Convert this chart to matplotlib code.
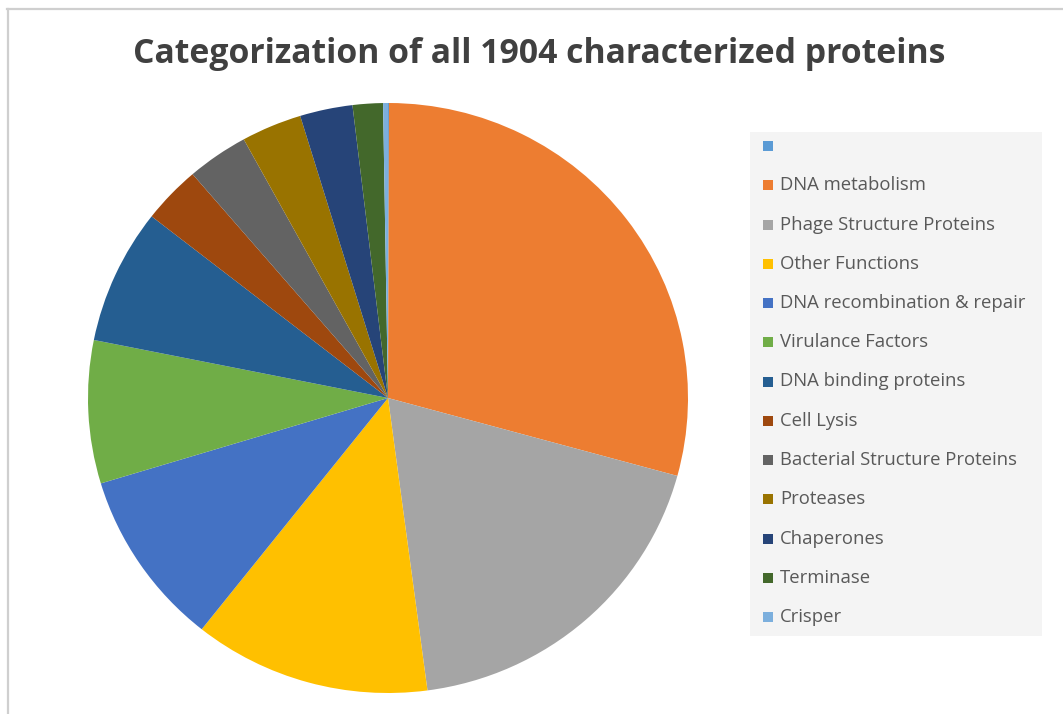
import matplotlib
matplotlib.use("Agg")
import matplotlib.pyplot as plt
from matplotlib.patches import Rectangle
from matplotlib.lines import Line2D

# Protein categories and their counts (1904 in total)
categories = [
    "", "DNA metabolism", "Phage Structure Proteins", "Other Functions",
    "DNA recombination & repair", "Virulance Factors", "DNA binding proteins",
    "Cell Lysis", "Bacterial Structure Proteins", "Proteases", "Chaperones",
    "Terminase", "Crisper",
]
counts = [1, 556, 355, 243, 184, 149, 141, 60, 63, 62, 54, 31, 5]
colors = [
    "#5B9BD5", "#ED7D31", "#A5A5A5", "#FFC000", "#4472C4", "#70AD47",
    "#255E91", "#9E480E", "#636363", "#997300", "#264478", "#43682B",
    "#7CAFDD",
]
title = "Categorization of all 1904 characterized proteins"

W, H = 1063, 714
fig = plt.figure(figsize=(W / 100, H / 100), dpi=100)
fig.patch.set_facecolor("white")


def fx(px):
    return px / W


def fy(py):
    return 1 - py / H


# Chart area border (top and left edges)
fig.add_artist(Line2D([fx(7), fx(W)], [fy(8.5), fy(8.5)], color="#cfcfcf", lw=1.6,
                      transform=fig.transFigure))
fig.add_artist(Line2D([fx(7.5), fx(7.5)], [fy(8.5), fy(H)], color="#cfcfcf", lw=1.6,
                      transform=fig.transFigure))

# Pie
cx, cy, rx, ry = 388, 398, 300, 295
ax = fig.add_axes([fx(cx - rx), fy(cy + ry), 2 * rx / W, 2 * ry / H])
ax.pie(counts, colors=colors, startangle=90, counterclock=False, radius=1.0,
       wedgeprops=dict(linewidth=0))
ax.set_aspect("auto")
ax.set_xlim(-1, 1)
ax.set_ylim(-1, 1)
ax.axis("off")

# Title
fig.text(fx(539), fy(54), title, ha="center", va="center", fontsize=24.3,
         fontweight="bold", color="#404040", family="Open Sans")

# Legend panel
fig.add_artist(Rectangle((fx(750), fy(636)), fx(1042) - fx(750), fy(132) - fy(636),
                         transform=fig.transFigure, facecolor="#f4f4f4",
                         edgecolor="none"))
y0, step = 146, 39.25
for i, (lab, col) in enumerate(zip(categories, colors)):
    y = y0 + i * step
    fig.add_artist(Rectangle((fx(763), fy(y + 5)), 10 / W, 10 / H,
                             transform=fig.transFigure, facecolor=col,
                             edgecolor="none"))
    fig.text(fx(780), fy(y), lab, ha="left", va="center", fontsize=13.3,
             color="#595959", family="Open Sans")

fig.savefig("out.png", dpi=100, facecolor="white")
